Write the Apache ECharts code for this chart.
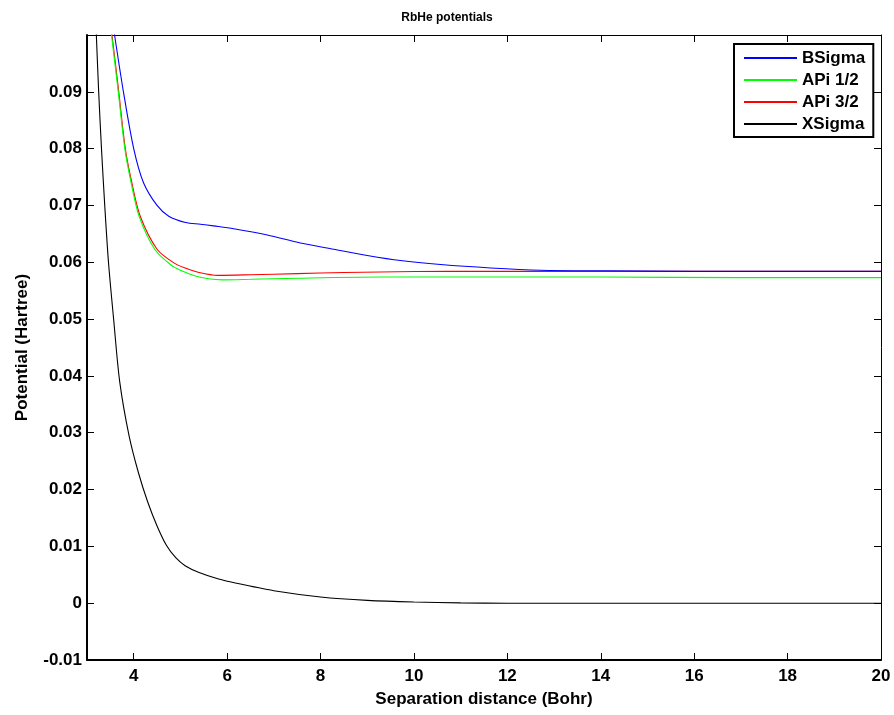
<!DOCTYPE html>
<html>
<head>
<meta charset="utf-8">
<script src="https://cdn.jsdelivr.net/npm/echarts@6/dist/echarts.min.js"></script>
<style>html,body{margin:0;padding:0;background:#fff}#c{width:894px;height:715px}</style>
</head>
<body>
<div id="c"></div>
<script>
var titleText = 'RbHe potentials';
var xName = 'Separation distance (Bohr)';
var yName = 'Potential (Hartree)';
var seriesNames = ['BSigma', 'APi 1/2', 'APi 3/2', 'XSigma'];
var seriesColors = ['#0000ff', '#00ff00', '#ff0000', '#000000'];

var xTicks = [4, 6, 8, 10, 12, 14, 16, 18, 20];
var yTicks = [-0.01, 0, 0.01, 0.02, 0.03, 0.04, 0.05, 0.06, 0.07, 0.08, 0.09];

var bsigmaX = [3.50, 3.59, 3.78, 4.00, 4.21, 4.50, 4.75, 5.11, 5.43, 5.71, 6.14, 6.86, 7.57, 8.28, 9.00, 9.71, 10.57, 11.64, 12.71, 14.14, 16.0, 18.0, 20.0];
var bsigmaY = [0.105, 0.100, 0.090, 0.080, 0.074, 0.0700, 0.0681, 0.0670, 0.0667, 0.0664, 0.0659, 0.0648, 0.0634, 0.0623, 0.0612, 0.0603, 0.0596, 0.0590, 0.0586, 0.0585, 0.0584, 0.0584, 0.0584];

var api12X = [3.38, 3.525, 3.67, 3.81, 3.95, 4.12, 4.45, 4.80, 5.00, 5.32, 5.60, 5.90, 6.50, 7.50, 9.28, 10.78, 14.0, 17.0, 20.0];
var api12Y = [0.110, 0.100, 0.090, 0.080, 0.0738, 0.0680, 0.0623, 0.0595, 0.0586, 0.0576, 0.0571, 0.0569, 0.0570, 0.0572, 0.0574, 0.0574, 0.0574, 0.0573, 0.0573];

var api32X = [3.39, 3.535, 3.68, 3.82, 3.96, 4.14, 4.50, 4.86, 5.10, 5.40, 5.80, 6.50, 7.50, 8.50, 9.28, 10.78, 12.0, 16.0, 20.0];
var api32Y = [0.110, 0.100, 0.090, 0.080, 0.0740, 0.0681, 0.0623, 0.0599, 0.0590, 0.0582, 0.0577, 0.0578, 0.0580, 0.0582, 0.0583, 0.0584, 0.0584, 0.0584, 0.0584];

var xsigmaX = [3.14, 3.20, 3.25, 3.31, 3.38, 3.46, 3.57, 3.70, 3.90, 4.10, 4.30, 4.50, 4.70, 4.90, 5.10, 5.40, 5.80, 6.20, 7.00, 8.00, 9.00, 10.0, 11.0, 12.0, 14.0, 17.0, 20.0];
var xsigmaY = [0.112, 0.100, 0.090, 0.080, 0.070, 0.060, 0.050, 0.0390, 0.0295, 0.0230, 0.0178, 0.0136, 0.0102, 0.0080, 0.0066, 0.0054, 0.0043, 0.0035, 0.0022, 0.0011, 0.0005, 0.0002, 0.00005, 0.0, 0.0, 0.0, 0.0];

function zip(xs, ys) { return xs.map(function (x, i) { return [x, ys[i]]; }); }
var seriesData = [zip(bsigmaX, bsigmaY), zip(api12X, api12Y), zip(api32X, api32Y), zip(xsigmaX, xsigmaY)];

var font = 'Liberation Sans, Arial, Helvetica, sans-serif';
var chart = echarts.init(document.getElementById('c'));

function fmtY(v) {
  var r = Math.round(v * 100) / 100;
  return String(r);
}

var axisLineB = { show: true, onZero: false, lineStyle: { color: '#000', width: 2 } };
var axisLineT = { show: true, onZero: false, lineStyle: { color: '#000', width: 1 } };
var tickStyle = { show: true, inside: true, length: 7, lineStyle: { color: '#000', width: 1 } };

chart.setOption({
  animation: false,
  backgroundColor: '#fff',
  title: {
    text: titleText, left: 'center', top: 7,
    textStyle: { fontFamily: font, fontSize: 12, fontWeight: 'bold', color: '#000' }
  },
  legend: {
    orient: 'vertical', left: 734, top: 44,
    data: seriesNames,
    icon: 'rect', itemWidth: 53, itemHeight: 2, itemGap: 2,
    padding: [4, 8, 3, 10],
    borderColor: '#000', borderWidth: 2, backgroundColor: '#fff',
    textStyle: { fontFamily: font, fontSize: 17, fontWeight: 'bold', color: '#000', lineHeight: 20 }
  },
  grid: { left: 87, right: 13, top: 35, bottom: 55, containLabel: false },
  xAxis: [{
    type: 'value', min: 3, max: 20, position: 'bottom',
    name: xName, nameLocation: 'middle', nameGap: 31,
    nameTextStyle: { fontFamily: font, fontSize: 17, fontWeight: 'bold', color: '#000' },
    axisLine: axisLineB,
    axisTick: Object.assign({}, tickStyle, { customValues: xTicks }),
    axisLabel: { customValues: xTicks, margin: 8, fontFamily: font, fontSize: 17, fontWeight: 'bold', color: '#000' },
    splitLine: { show: false }
  }, {
    type: 'value', min: 3, max: 20, position: 'top',
    axisLine: axisLineT,
    axisTick: Object.assign({}, tickStyle, { customValues: xTicks }),
    axisLabel: { show: false },
    splitLine: { show: false }
  }],
  yAxis: [{
    type: 'value', min: -0.01, max: 0.1, position: 'left',
    name: yName, nameLocation: 'middle', nameGap: 56,
    nameTextStyle: { fontFamily: font, fontSize: 17, fontWeight: 'bold', color: '#000' },
    axisLine: axisLineB,
    axisTick: Object.assign({}, tickStyle, { customValues: yTicks }),
    axisLabel: { customValues: yTicks, margin: 5, formatter: fmtY, fontFamily: font, fontSize: 17, fontWeight: 'bold', color: '#000' },
    splitLine: { show: false }
  }, {
    type: 'value', min: -0.01, max: 0.1, position: 'right',
    axisLine: axisLineT,
    axisTick: Object.assign({}, tickStyle, { customValues: yTicks }),
    axisLabel: { show: false },
    splitLine: { show: false }
  }],
  series: seriesNames.map(function (n, i) {
    return {
      name: n, type: 'line', data: seriesData[i],
      xAxisIndex: 0, yAxisIndex: 0,
      showSymbol: false, smooth: 0.3, clip: true,
      lineStyle: { color: seriesColors[i], width: 1.1 },
      itemStyle: { color: seriesColors[i] },
      z: 4 - i
    };
  })
});
</script>
</body>
</html>
